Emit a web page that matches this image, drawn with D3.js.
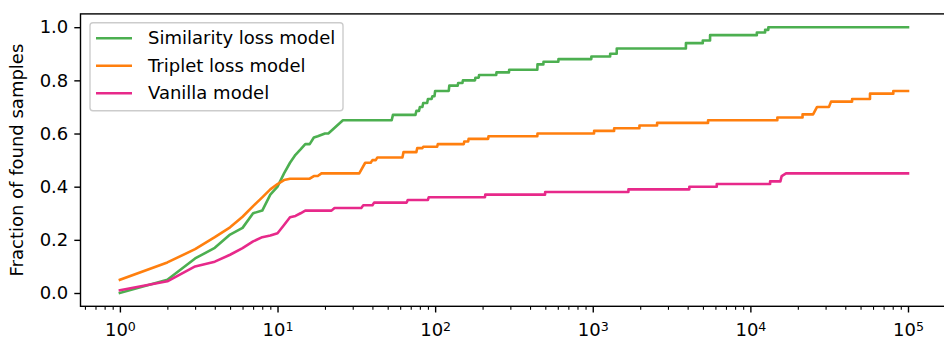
<!DOCTYPE html>
<html>
<head>
<meta charset="utf-8">
<script src="https://cdn.jsdelivr.net/npm/d3@7"></script>
<style>
  body { margin: 0; background: #fff; }
  svg { display: block; font-family: "DejaVu Sans", sans-serif; }
</style>
</head>
<body>
<div id="chart_container"></div>
<script>
// points: [samples checked, fraction found]
const similarity = [
  [1, 0.00], [2, 0.05], [3, 0.13], [4, 0.17], [5, 0.22], [6, 0.245], [7, 0.30], [8, 0.31],
  [9, 0.37], [10, 0.40], [11, 0.45], [12, 0.49], [13, 0.52], [14, 0.54], [15, 0.56], [16, 0.56],
  [17, 0.585], [18, 0.59], [20, 0.60], [21, 0.60], [26, 0.65],
  [53, 0.65], [54, 0.67], [75, 0.67], [76, 0.685], [79, 0.685], [80, 0.70], [83, 0.70], [84, 0.715],
  [89, 0.715], [90, 0.73], [95, 0.73], [96, 0.74], [99, 0.74], [100, 0.76], [122, 0.76], [123, 0.78],
  [139, 0.78], [140, 0.79], [149, 0.79], [150, 0.80], [179, 0.80], [180, 0.81], [189, 0.81], [190, 0.82],
  [244, 0.82], [245, 0.83], [294, 0.83], [295, 0.84], [445, 0.84], [446, 0.86], [486, 0.86], [487, 0.87],
  [605, 0.87], [606, 0.88], [979, 0.88], [980, 0.89], [1289, 0.89], [1290, 0.90], [1419, 0.90], [1420, 0.92],
  [3899, 0.92], [3900, 0.94], [4989, 0.94], [4990, 0.95], [5549, 0.95], [5550, 0.97], [10989, 0.97], [10990, 0.98],
  [12399, 0.98], [12400, 0.99], [12999, 0.99], [13000, 1.00], [100000, 1.00]
];

const triplet = [
  [1, 0.05], [2, 0.115], [3, 0.165], [4, 0.21], [5, 0.247], [6, 0.287], [7, 0.327], [8, 0.36],
  [9, 0.39], [10, 0.41], [11, 0.425], [12, 0.43], [16, 0.43], [17, 0.44], [18, 0.44], [19, 0.45],
  [33, 0.45], [36, 0.49], [39, 0.49], [40, 0.50], [42, 0.50], [43, 0.51], [62, 0.51], [63, 0.53],
  [76, 0.53], [77, 0.545], [83, 0.545], [84, 0.55], [103, 0.55], [104, 0.56], [152, 0.56], [153, 0.57],
  [162, 0.57], [163, 0.58], [217, 0.58], [218, 0.59], [445, 0.59], [446, 0.60], [1019, 0.60], [1020, 0.61],
  [1366, 0.61], [1367, 0.62], [1977, 0.62], [1978, 0.63], [2559, 0.63], [2560, 0.64], [5389, 0.64], [5390, 0.65],
  [14829, 0.65], [14830, 0.66], [21429, 0.66], [21430, 0.672], [25000, 0.672], [26500, 0.70], [31500, 0.70],
  [32500, 0.72], [44199, 0.72], [44200, 0.73], [57399, 0.73], [57400, 0.75], [80699, 0.75], [80700, 0.76],
  [100000, 0.76]
];

const vanilla = [
  [1, 0.01], [2, 0.044], [3, 0.10], [4, 0.118], [5, 0.144], [6, 0.169], [7, 0.194], [8, 0.21],
  [9, 0.216], [10, 0.225], [11, 0.256], [12, 0.285], [13, 0.29], [14, 0.30], [15, 0.31], [22, 0.31],
  [23, 0.32], [34, 0.32], [35, 0.33], [40, 0.33], [41, 0.34], [66, 0.34], [67, 0.35], [90, 0.35],
  [91, 0.36], [207, 0.36], [208, 0.37], [498, 0.37], [499, 0.38], [1683, 0.38], [1684, 0.39], [4099, 0.39],
  [4100, 0.40], [6119, 0.40], [6120, 0.41], [13339, 0.41], [13340, 0.42], [15500, 0.42], [15800, 0.44],
  [16830, 0.45], [100000, 0.45]
];

const seriesNames = ["Similarity loss model", "Triplet loss model", "Vanilla model"];
const seriesColors = ["#4caf50", "#ff7f0e", "#e7298a"];
const yTicks = [0.0, 0.2, 0.4, 0.6, 0.8, 1.0];
const xMajorTicks = [1, 10, 100, 1000, 10000, 100000];

const svgWidth = 944;
const svgHeight = 340;
const margin = { top: 13.9, right: -3.4, bottom: 33.7, left: 80.5 };
const width = svgWidth - margin.left - margin.right;
const height = svgHeight - margin.top - margin.bottom;
const fontSize = 18;

const svg = d3.select("#chart_container")
  .append("svg")
  .attr("width", svgWidth)
  .attr("height", svgHeight);

const g = svg.append("g")
  .attr("transform", "translate(" + margin.left + "," + margin.top + ")");

const xScale = d3.scaleLog()
  .domain([Math.pow(10, -0.25), Math.pow(10, 5.25)])
  .range([0, width]);

const yScale = d3.scaleLinear()
  .domain([-0.05, 1.05])
  .range([height, 0]);

// lines
const line = d3.line()
  .x(function(d) { return xScale(d[0]); })
  .y(function(d) { return yScale(d[1]); });

[similarity, triplet, vanilla].forEach(function(data, i) {
  g.append("path")
    .datum(data)
    .attr("fill", "none")
    .attr("stroke", seriesColors[i])
    .attr("stroke-width", 2.6)
    .attr("stroke-linejoin", "round")
    .attr("stroke-linecap", "square")
    .attr("d", line);
});

// frame
g.append("rect")
  .attr("x", 0)
  .attr("y", 0)
  .attr("width", width)
  .attr("height", height)
  .attr("fill", "none")
  .attr("stroke", "#000")
  .attr("stroke-width", 1.4);

// y axis
const yAxis = d3.axisLeft(yScale)
  .tickValues(yTicks)
  .tickSize(6.2)
  .tickPadding(6)
  .tickFormat(d3.format(".1f"));

const yAxisG = g.append("g").call(yAxis);
yAxisG.select(".domain").remove();
yAxisG.selectAll(".tick line").attr("stroke", "#000").attr("stroke-width", 1.4);
yAxisG.selectAll(".tick text")
  .attr("fill", "#000")
  .style("font-size", fontSize + "px")
  .style("font-family", "DejaVu Sans");

// x axis: major ticks
const xAxis = d3.axisBottom(xScale)
  .tickValues(xMajorTicks)
  .tickSize(6.2)
  .tickFormat("");

const xAxisG = g.append("g")
  .attr("transform", "translate(0," + height + ")")
  .call(xAxis);
xAxisG.select(".domain").remove();
xAxisG.selectAll(".tick line").attr("stroke", "#000").attr("stroke-width", 1.4);

// x axis: minor ticks
const minorTicks = xScale.ticks().filter(function(t) {
  return xMajorTicks.indexOf(t) < 0;
});
const xMinor = d3.axisBottom(xScale)
  .tickValues(minorTicks)
  .tickSize(3.5)
  .tickFormat("");
const xMinorG = g.append("g")
  .attr("transform", "translate(0," + height + ")")
  .call(xMinor);
xMinorG.select(".domain").remove();
xMinorG.selectAll(".tick line").attr("stroke", "#000").attr("stroke-width", 1.1);

// x tick labels as 10^n
xAxisG.selectAll(".tick").each(function(d) {
  const label = d3.select(this).append("text")
    .attr("y", 30)
    .attr("fill", "#000")
    .style("text-anchor", "middle")
    .style("font-size", fontSize + "px")
    .style("font-family", "DejaVu Sans");
  label.append("tspan").text("10");
  label.append("tspan")
    .attr("dy", "-0.45em")
    .style("font-size", (fontSize * 0.7) + "px")
    .text(Math.round(Math.log10(d)));
});

// y label
svg.append("text")
  .attr("transform", "rotate(-90)")
  .attr("x", -(margin.top + height / 2))
  .attr("y", 22.5)
  .style("text-anchor", "middle")
  .style("font-size", fontSize + "px")
  .attr("fill", "#000")
  .text("Fraction of found samples");

// legend
const legend = g.append("g")
  .attr("transform", "translate(9.5,8.8)");

legend.append("rect")
  .attr("x", 0)
  .attr("y", 0)
  .attr("width", 253)
  .attr("height", 88)
  .attr("rx", 3)
  .attr("fill", "#fff")
  .attr("fill-opacity", 0.8)
  .attr("stroke", "#cccccc")
  .attr("stroke-width", 1.4);

seriesNames.forEach(function(name, i) {
  const rowY = 15.5 + i * 27.5;
  legend.append("line")
    .attr("x1", 6)
    .attr("x2", 42)
    .attr("y1", rowY)
    .attr("y2", rowY)
    .attr("stroke", seriesColors[i])
    .attr("stroke-width", 2.6);
  legend.append("text")
    .attr("x", 58)
    .attr("y", rowY)
    .attr("dy", "0.35em")
    .attr("fill", "#000")
    .style("font-size", fontSize + "px")
    .text(name);
});
</script>
</body>
</html>
